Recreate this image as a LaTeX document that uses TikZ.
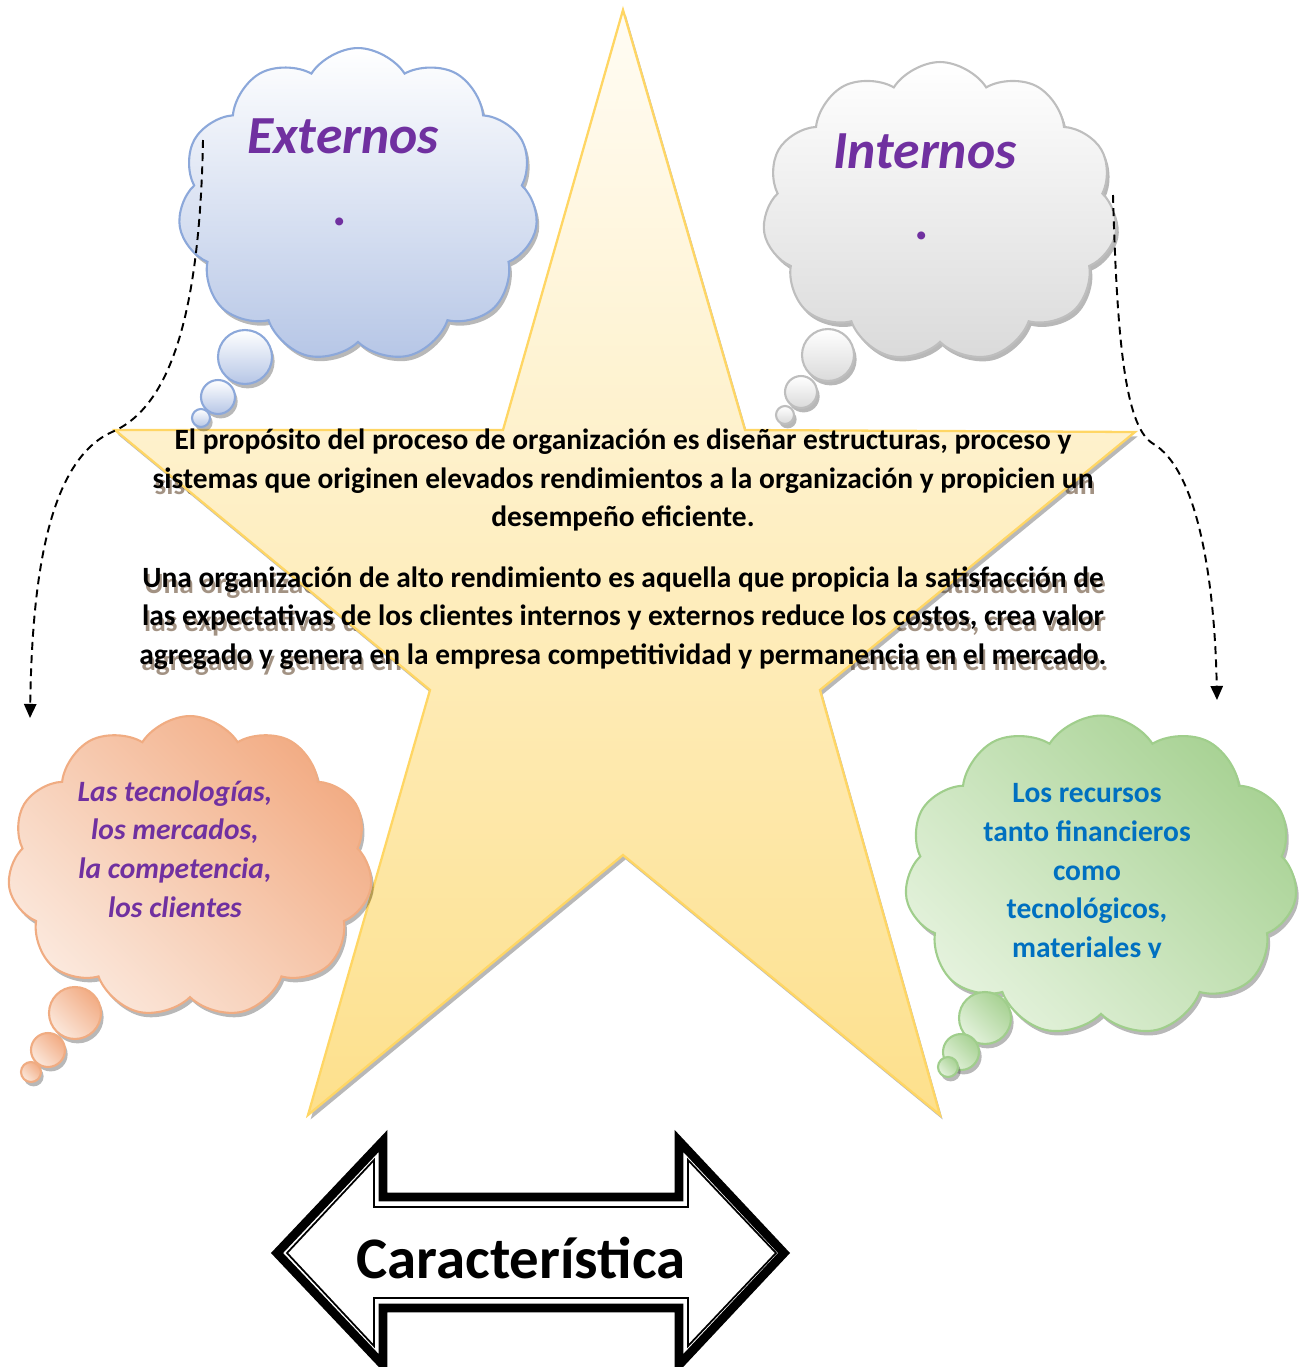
\documentclass[tikz,border=0pt]{standalone}
\usepackage{fontspec}
\setmainfont{Carlito}
\usetikzlibrary{shapes.symbols,shadows,arrows.meta}
\definecolor{violeta}{RGB}{112,48,160}
\definecolor{azul}{RGB}{0,112,192}
\definecolor{estrellaborde}{RGB}{255,214,100}
\definecolor{estrellaarriba}{RGB}{255,252,244}
\definecolor{estrellaabajo}{RGB}{253,224,140}
\definecolor{extborde}{RGB}{140,168,218}
\definecolor{extfondo}{RGB}{182,198,230}
\definecolor{intborde}{RGB}{190,190,190}
\definecolor{intfondo}{RGB}{218,218,218}
\definecolor{orgborde}{RGB}{240,172,130}
\definecolor{orgclaro}{RGB}{251,232,220}
\definecolor{orgoscuro}{RGB}{242,172,132}
\definecolor{verborde}{RGB}{160,206,140}
\definecolor{verclaro}{RGB}{228,242,220}
\definecolor{veroscuro}{RGB}{168,210,148}
\newcommand{\textoproposito}{El propósito del proceso de organización es diseñar estructuras, proceso y\\
sistemas que originen elevados rendimientos a la organización y propicien un\\
desempeño eficiente.}
\newcommand{\textoalto}{Una organización de alto rendimiento es aquella que propicia la satisfacción de\\
las expectativas de los clientes internos y externos reduce los costos, crea valor\\
agregado y genera en la empresa competitividad y permanencia en el mercado.}
\begin{document}
\begin{tikzpicture}
[x=0.02cm,y=-0.02cm,>={Triangle[length=8pt,width=7pt]},
sombra/.style = {drop shadow={shadow xshift=1.5pt,shadow yshift=-2.5pt,opacity=0.35,fill=black!80}},
nube/.style = {cloud, cloud puffs=11, cloud puff arc=115, cloud ignores aspect, inner sep=0pt, line width=1.2pt, sombra},
burbuja/.style = {circle, inner sep=0pt, line width=1.2pt, sombra},
nubeext/.style = {draw=extborde, top color=white, bottom color=extfondo},
nubeint/.style = {draw=intborde, top color=white, bottom color=intfondo},
nubeorg/.style = {draw=orgborde, top color=orgoscuro, bottom color=orgclaro, shading angle=-45},
nubever/.style = {draw=verborde, top color=veroscuro, bottom color=verclaro, shading angle=-45},
cuerpo/.style = {align=center, font=\bfseries\fontsize{16.75}{21.8}\selectfont},
cuerposombra/.style = {cuerpo, text=black!55!brown, opacity=0.55},
titulo/.style = {font=\bfseries\itshape\fontsize{30.5}{32}\selectfont, text=violeta, anchor=base},
lista/.style = {align=center, font=\bfseries\fontsize{16.8}{22}\selectfont},
enlace/.style = {dash pattern=on 4.5pt off 3pt, line width=1.1pt, ->},
]
\useasboundingbox (0,0) rectangle (1299,1367);
% sombra del texto, detras de la estrella
\node[cuerposombra] (propsombra) at (625,486) {\textoproposito};
\node[cuerposombra] (altosombra) at (625,624) {\textoalto};
% estrella
\shade[top color=estrellaarriba, bottom color=estrellaabajo, draw=estrellaborde, line width=1.3pt, sombra]
 (623,10) -- (745,430) -- (1135,432) -- (820,690) -- (940,1115) -- (623,855)
 -- (308,1115) -- (430,690) -- (115,430) -- (503,430) -- cycle;
% nubes
\node[nube, nubeext, minimum width=7.2cm, minimum height=6.28cm] (ext) at (358,205) {};
\node[burbuja, nubeext, minimum size=1.08cm] (extb1) at (245,357) {};
\node[burbuja, nubeext, minimum size=0.68cm] (extb2) at (218,397) {};
\node[burbuja, nubeext, minimum size=0.36cm] (extb3) at (201,418) {};
\node[nube, nubeint, minimum width=7.1cm, minimum height=6cm] (int) at (940,212) {};
\node[burbuja, nubeint, minimum size=1.04cm] (intb1) at (828,355) {};
\node[burbuja, nubeint, minimum size=0.64cm] (intb2) at (801,392) {};
\node[burbuja, nubeint, minimum size=0.36cm] (intb3) at (785,415) {};
\node[nube, nubeorg, minimum width=7.3cm, minimum height=6.04cm] (org) at (190,867) {};
\node[burbuja, nubeorg, minimum size=1.04cm] (orgb1) at (75,1013) {};
\node[burbuja, nubeorg, minimum size=0.68cm] (orgb2) at (48,1050) {};
\node[burbuja, nubeorg, minimum size=0.4cm] (orgb3) at (31,1072) {};
\node[nube, nubever, minimum width=7.86cm, minimum height=6.42cm] (ver) at (1101,876) {};
\node[burbuja, nubever, minimum size=1.04cm] (verb1) at (985,1018) {};
\node[burbuja, nubever, minimum size=0.72cm] (verb2) at (961,1052) {};
\node[burbuja, nubever, minimum size=0.4cm] (verb3) at (948,1067) {};
% textos
\node[titulo] (exttit) at (343,153) {Externos};
\node[titulo] (extpunto) at (341,225) {.};
\node[titulo] (inttit) at (925,168) {Internos};
\node[titulo] (intpunto) at (923,239) {.};
\node[lista, text=violeta, font=\bfseries\itshape\fontsize{16.8}{22}\selectfont] (orgtxt) at (175,849) {Las tecnologías,\\los mercados,\\la competencia,\\los clientes};
\begin{scope}
\clip (900,700) rectangle (1299,957);
\node[lista, text=azul] (vertxt) at (1087,873) {Los recursos\\tanto financieros\\como\\tecnológicos,\\materiales y};
\end{scope}
\node[cuerpo] (prop) at (623,480) {\textoproposito};
\node[cuerpo] (alto) at (623,618) {\textoalto};
% conectores
\coordinate (extsal) at (203,140);
\coordinate (extcodo) at (112,432);
\coordinate (orgent) at (30,718);
\coordinate (intsal) at (1113,195);
\coordinate (intcodo) at (1152,443);
\coordinate (verent) at (1217,700);
\draw[enlace] (extsal) .. controls (200,300) and (175,405) .. (extcodo) .. controls (45,462) and (32,590) .. (orgent);
\draw[enlace] (intsal) .. controls (1117,340) and (1125,425) .. (intcodo) .. controls (1200,470) and (1215,590) .. (verent);
% flecha doble
\draw[line width=5pt, fill=white, line join=miter] (277,1253) -- (383,1141) -- (383,1197) -- (679,1197) -- (679,1141)
 -- (784,1253) -- (679,1365) -- (679,1308) -- (383,1308) -- (383,1365) -- cycle;
\draw[line width=1pt] (287,1253) -- (374,1160) -- (374,1207) -- (688,1207) -- (688,1160)
 -- (776,1253) -- (688,1346) -- (688,1298) -- (374,1298) -- (374,1346) -- cycle;
\node[font=\bfseries\fontsize{33.5}{35}\selectfont] (carac) at (521,1258) {Característica};
\end{tikzpicture}
\end{document}
